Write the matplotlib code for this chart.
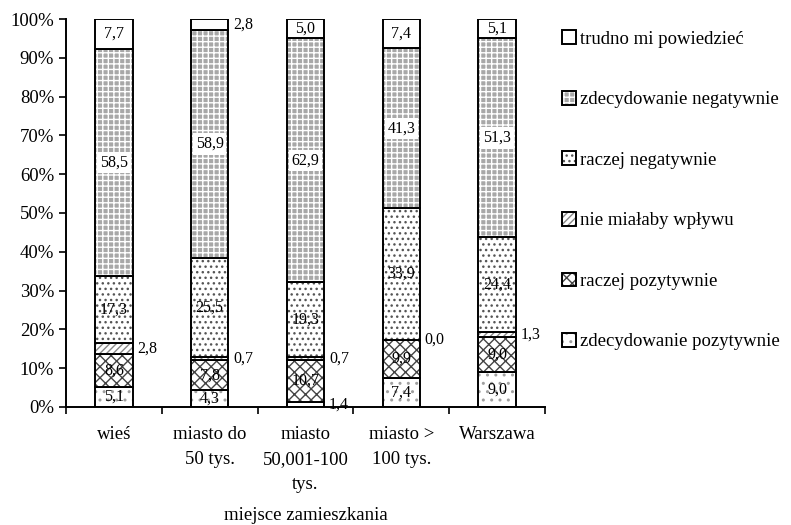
import numpy as np
import matplotlib
matplotlib.use("Agg")
import matplotlib.pyplot as plt
from matplotlib.legend_handler import HandlerTuple

# data: share of answers (%) by place of residence
categories = ["wieś", "miasto do\n50 tys.", "miasto\n50,001-100\ntys.",
              "miasto >\n100 tys.", "Warszawa"]
series = ["zdecydowanie pozytywnie", "raczej pozytywnie", "nie miałaby wpływu",
          "raczej negatywnie", "zdecydowanie negatywnie", "trudno mi powiedzieć"]
zdec_poz = [5.1, 4.3, 1.4, 7.4, 9.0]
raczej_poz = [8.6, 7.8, 10.7, 9.9, 9.0]
bez_wplywu = [2.8, 0.7, 0.7, 0.0, 1.3]
raczej_neg = [17.3, 25.5, 19.3, 33.9, 24.4]
zdec_neg = [58.5, 58.9, 62.9, 41.3, 51.3]
trudno = [7.7, 2.8, 5.0, 7.4, 5.1]
values = [zdec_poz, raczej_poz, bez_wplywu, raczej_neg, zdec_neg, trudno]

# (facecolor, hatch, hatch colour)
styles = [
    ("white", "..", "#a0a0a0"),
    ("white", "xxx", "#444444"),
    ("white", "/////", "#888888"),
    ("white", "...", "#555555"),
    ("#a8a8a8", "+++", "white"),
    ("white", "", "black"),
]

plt.rcParams["font.family"] = ["Liberation Serif", "DejaVu Serif"]
plt.rcParams["hatch.linewidth"] = 1.0

fig = plt.figure(figsize=(7.91, 5.25), dpi=100)
ax = fig.add_axes([0.0834, 0.2248, 0.6056, 0.739])

x = np.arange(len(categories))
width = 0.39
bottom = np.zeros(len(categories))
handles = []
for i, (name, vals) in enumerate(zip(series, values)):
    vals = np.array(vals)
    fc, hatch, hc = styles[i]
    hb = ax.bar(x, vals, width, bottom=bottom, color=fc, hatch=hatch,
                edgecolor=hc, linewidth=0)
    ob = ax.bar(x, vals, width, bottom=bottom, fill=False,
                edgecolor="black", linewidth=1.4)
    handles.append((hb[0], ob[0]))
    for j, v in enumerate(vals):
        yc = bottom[j] + v / 2
        lab = f"{v:.1f}".replace(".", ",")
        if v < 3:
            ax.text(x[j] + width / 2 + 0.05, yc, lab, ha="left", va="center",
                    fontsize=11.5)
        elif i == 4:
            ax.text(x[j], yc, lab, ha="center", va="center", fontsize=11.5,
                    bbox=dict(facecolor="white", edgecolor="none", pad=2))
        else:
            ax.text(x[j], yc, lab, ha="center", va="center", fontsize=11.5)
    bottom += vals

ax.set_xlim(-0.5, len(categories) - 0.5)
ax.set_ylim(0, 100)
ax.set_yticks(np.arange(0, 101, 10))
ax.set_yticklabels([f"{t}%" for t in range(0, 101, 10)], fontsize=13.5)
ax.set_xticks(np.arange(-0.5, len(categories), 1))
ax.set_xticklabels([])
ax.set_xticks(x, minor=True)
ax.set_xticklabels(categories, minor=True, fontsize=13.5, linespacing=1.6)
ax.tick_params(axis="x", which="minor", length=0, pad=14)
ax.tick_params(axis="x", which="major", length=5, direction="out", width=1.2)
ax.tick_params(axis="y", length=5, direction="out", width=1.2)
for s in ["top", "right"]:
    ax.spines[s].set_visible(False)
for s in ["left", "bottom"]:
    ax.spines[s].set_linewidth(1.4)
ax.set_xlabel("miejsce zamieszkania", fontsize=13.5, labelpad=10)

leg = ax.legend(handles[::-1], series[::-1], handler_map={tuple: HandlerTuple(ndivide=1, pad=0)},
                loc="upper left", bbox_to_anchor=(1.02, 0.99), frameon=False,
                fontsize=13.5, handlelength=0.75, handleheight=0.75,
                handletextpad=0.2, labelspacing=2.3, borderaxespad=0)

fig.savefig("out.png", dpi=100)
